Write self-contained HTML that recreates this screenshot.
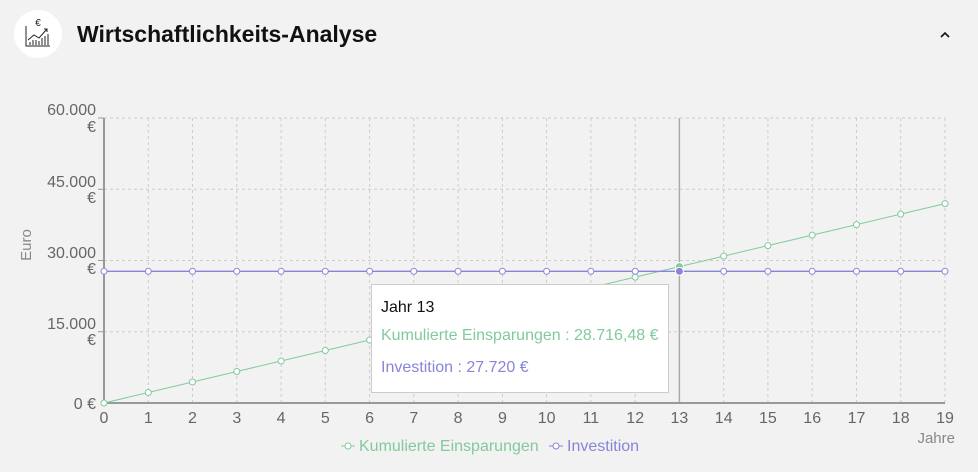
<!DOCTYPE html>
<html><head><meta charset="utf-8"><style>
html,body{margin:0;padding:0;background:#f2f2f2;width:978px;height:472px;overflow:hidden;font-family:"Liberation Sans",sans-serif}
</style></head><body>
<svg width="978" height="472" xmlns="http://www.w3.org/2000/svg" style="position:absolute;left:0;top:0;font-family:'Liberation Sans',sans-serif">
<circle cx="38" cy="34" r="24" fill="#fff"/>
<g stroke="#222" stroke-width="1" fill="none">
<path d="M26 26 V46 H50"/>
<path d="M28 40 L34 35 L39 38 L47 29"/><path d="M44 29 H47 V32"/>
<path d="M30 45 V42 M33 45 V40 M36 45 V40 M39 45 V41 M42 45 V38 M45 45 V36 M48 45 V34"/>
</g>
<text x="38" y="26" font-size="10" text-anchor="middle" fill="#222">€</text>
<text x="77" y="42" font-size="23" font-weight="bold" fill="#111">Wirtschaftlichkeits-Analyse</text>
<path d="M941 37 L945 33 L949 37" stroke="#111" stroke-width="1.6" fill="none"/>
<g stroke="#ccc" stroke-dasharray="3 3" stroke-width="1">
<line x1="104" x2="945" y1="118" y2="118"/><line x1="104" x2="945" y1="189.25" y2="189.25"/>
<line x1="104" x2="945" y1="260.5" y2="260.5"/><line x1="104" x2="945" y1="331.75" y2="331.75"/>
<line x1="148.3" x2="148.3" y1="118" y2="403"/><line x1="192.5" x2="192.5" y1="118" y2="403"/><line x1="236.8" x2="236.8" y1="118" y2="403"/><line x1="281.1" x2="281.1" y1="118" y2="403"/><line x1="325.3" x2="325.3" y1="118" y2="403"/><line x1="369.6" x2="369.6" y1="118" y2="403"/><line x1="413.8" x2="413.8" y1="118" y2="403"/><line x1="458.1" x2="458.1" y1="118" y2="403"/><line x1="502.4" x2="502.4" y1="118" y2="403"/><line x1="546.6" x2="546.6" y1="118" y2="403"/><line x1="590.9" x2="590.9" y1="118" y2="403"/><line x1="635.2" x2="635.2" y1="118" y2="403"/><line x1="723.7" x2="723.7" y1="118" y2="403"/><line x1="767.9" x2="767.9" y1="118" y2="403"/><line x1="812.2" x2="812.2" y1="118" y2="403"/><line x1="856.5" x2="856.5" y1="118" y2="403"/><line x1="900.7" x2="900.7" y1="118" y2="403"/><line x1="945" x2="945" y1="118" y2="403"/>
</g>
<line x1="679.4" x2="679.4" y1="118" y2="403" stroke="#aaa" stroke-width="1.5"/>
<g stroke="#999" stroke-width="2"><line x1="104" x2="104" y1="118" y2="404"/><line x1="103" x2="945" y1="403" y2="403"/></g>
<g stroke="#999" stroke-width="1"><line x1="98" x2="104" y1="118" y2="118"/><line x1="98" x2="104" y1="189.25" y2="189.25"/><line x1="98" x2="104" y1="260.5" y2="260.5"/><line x1="98" x2="104" y1="331.75" y2="331.75"/></g>
<g font-size="16" fill="#666" text-anchor="end">
<text x="96" y="115">60.000</text><text x="96" y="132">€</text>
<text x="96" y="187">45.000</text><text x="96" y="203">€</text>
<text x="96" y="258">30.000</text><text x="96" y="274">€</text>
<text x="96" y="329">15.000</text><text x="96" y="345">€</text>
<text x="96" y="409">0 €</text>
</g>
<text transform="translate(31,245) rotate(-90)" font-size="15" fill="#888" text-anchor="middle">Euro</text>
<g font-size="16" fill="#666" text-anchor="middle">
<text x="104" y="423">0</text><text x="148.3" y="423">1</text><text x="192.5" y="423">2</text><text x="236.8" y="423">3</text><text x="281.1" y="423">4</text><text x="325.3" y="423">5</text><text x="369.6" y="423">6</text><text x="413.8" y="423">7</text><text x="458.1" y="423">8</text><text x="502.4" y="423">9</text><text x="546.6" y="423">10</text><text x="590.9" y="423">11</text><text x="635.2" y="423">12</text><text x="679.4" y="423">13</text><text x="723.7" y="423">14</text><text x="767.9" y="423">15</text><text x="812.2" y="423">16</text><text x="856.5" y="423">17</text><text x="900.7" y="423">18</text><text x="945" y="423">19</text>
</g>
<text x="955" y="443" font-size="15" fill="#888" text-anchor="end">Jahre</text>
<polyline fill="none" stroke="#82ca9d" stroke-width="1" points="104,403 148.3,392.5 192.5,382 236.8,371.5 281.1,361 325.3,350.5 369.6,340 413.8,329.5 458.1,319.1 502.4,308.6 546.6,298.1 590.9,287.6 635.2,277.1 679.4,266.6 723.7,256.1 767.9,245.6 812.2,235.1 856.5,224.6 900.7,214.1 945,203.6"/>
<g fill="#fff" stroke="#82ca9d" stroke-width="1">
<circle cx="104" cy="403" r="3"/><circle cx="148.3" cy="392.5" r="3"/><circle cx="192.5" cy="382" r="3"/><circle cx="236.8" cy="371.5" r="3"/><circle cx="281.1" cy="361" r="3"/><circle cx="325.3" cy="350.5" r="3"/><circle cx="369.6" cy="340" r="3"/><circle cx="635.2" cy="277.1" r="3"/><circle cx="723.7" cy="256.1" r="3"/><circle cx="767.9" cy="245.6" r="3"/><circle cx="812.2" cy="235.1" r="3"/><circle cx="856.5" cy="224.6" r="3"/><circle cx="900.7" cy="214.1" r="3"/><circle cx="945" cy="203.6" r="3"/>
</g>
<circle cx="679.4" cy="266.6" r="4" fill="#82ca9d" stroke="#fff"/>
<line x1="104" x2="945" y1="271.3" y2="271.3" stroke="#8884d8" stroke-width="1.3"/>
<g fill="#fff" stroke="#8884d8" stroke-width="1">
<circle cx="104" cy="271.3" r="3"/><circle cx="148.3" cy="271.3" r="3"/><circle cx="192.5" cy="271.3" r="3"/><circle cx="236.8" cy="271.3" r="3"/><circle cx="281.1" cy="271.3" r="3"/><circle cx="325.3" cy="271.3" r="3"/><circle cx="369.6" cy="271.3" r="3"/><circle cx="413.8" cy="271.3" r="3"/><circle cx="458.1" cy="271.3" r="3"/><circle cx="502.4" cy="271.3" r="3"/><circle cx="546.6" cy="271.3" r="3"/><circle cx="590.9" cy="271.3" r="3"/><circle cx="635.2" cy="271.3" r="3"/><circle cx="723.7" cy="271.3" r="3"/><circle cx="767.9" cy="271.3" r="3"/><circle cx="812.2" cy="271.3" r="3"/><circle cx="856.5" cy="271.3" r="3"/><circle cx="900.7" cy="271.3" r="3"/><circle cx="945" cy="271.3" r="3"/>
</g>
<circle cx="679.4" cy="271.3" r="4" fill="#8884d8" stroke="#fff"/>
<rect x="371.5" y="284.5" width="297" height="108" fill="#fff" stroke="#ccc"/>
<text x="381" y="312" font-size="16" fill="#111">Jahr 13</text>
<text x="381" y="340" font-size="16" fill="#82ca9d">Kumulierte Einsparungen : 28.716,48 €</text>
<text x="381" y="372" font-size="16" fill="#8884d8">Investition : 27.720 €</text>
<line x1="341" x2="355" y1="446" y2="446" stroke="#82ca9d"/><circle cx="348" cy="446" r="3" fill="#fff" stroke="#82ca9d"/>
<text x="359" y="451" font-size="16" fill="#82ca9d">Kumulierte Einsparungen</text>
<line x1="549" x2="563" y1="446" y2="446" stroke="#8884d8"/><circle cx="556" cy="446" r="3" fill="#fff" stroke="#8884d8"/>
<text x="567" y="451" font-size="16" fill="#8884d8">Investition</text>
</svg>
</body></html>
